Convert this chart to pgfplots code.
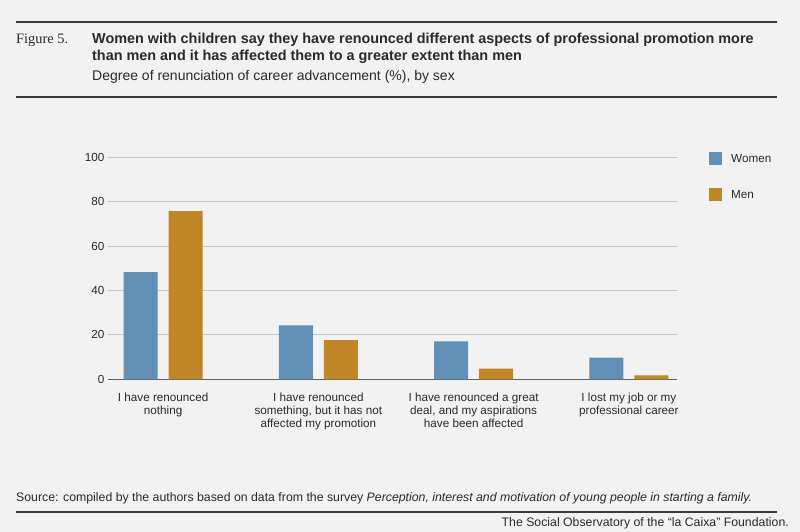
\documentclass[border=0pt]{standalone}
\usepackage{pgfplots}
\pgfplotsset{compat=1.18}
\usepackage{fontspec}
\setmainfont{Liberation Sans}
\newfontfamily\figfont{Liberation Serif}
\definecolor{bg}{HTML}{F2F2F2}
\definecolor{women}{HTML}{628FB6}
\definecolor{men}{HTML}{C08628}
\definecolor{gridc}{HTML}{C6C6C6}
\definecolor{rulec}{HTML}{3A3A3A}
\definecolor{txt}{HTML}{2A2A2A}
\begin{document}
\begin{tikzpicture}
\fill[bg] (0pt,0pt) rectangle (800pt,532pt);
\useasboundingbox (0pt,0pt) rectangle (800pt,532pt);
\draw[rulec, line width=2.4pt] (16pt,510pt) -- (777pt,510pt);
\draw[rulec, line width=2.4pt] (16pt,435pt) -- (777pt,435pt);
\draw[rulec, line width=2.4pt] (16pt,20pt) -- (777pt,20pt);
\node[anchor=base west, inner sep=0pt, txt] at (16pt,488.3pt) {\figfont\fontsize{14.4}{16}\selectfont Figure 5.};
\node[anchor=base west, inner sep=0pt, txt] at (92pt,488.3pt) {\bfseries\fontsize{14.4}{16}\selectfont Women with children say they have renounced different aspects of professional promotion more};
\node[anchor=base west, inner sep=0pt, txt] at (92pt,471.7pt) {\bfseries\fontsize{14.4}{16}\selectfont than men and it has affected them to a greater extent than men};
\node[anchor=base west, inner sep=0pt, txt] at (92pt,451pt) {\fontsize{14}{16}\selectfont Degree of renunciation of career advancement (\%), by sex};
\node[anchor=base west, inner sep=0pt, txt] at (16pt,30pt) {\fontsize{12.3}{14}\selectfont Source: compiled by the authors based on data from the survey \textit{Perception, interest and motivation of young people in starting a family.}};
\node[anchor=base east, inner sep=0pt, txt] at (789pt,5pt) {\fontsize{12.3}{14}\selectfont The Social Observatory of the “la Caixa” Foundation.};
\begin{axis}[
  at={(108pt,152.7pt)}, anchor=south west,
  scale only axis, width=569pt, height=222pt,
  xmin=-0.355, xmax=3.31, ymin=0, ymax=100,
  ybar=11pt, bar width=34pt,
  ytick={0,20,40,60,80,100},
  xtick={0,1,2,3},
  xticklabels={{I have renounced\\nothing},{I have renounced\\something, but it has not\\affected my promotion},{I have renounced a great\\deal, and my aspirations\\have been affected},{I lost my job or my\\professional career}},
  xticklabel style={align=center, font=\fontsize{11.7}{13.3}\selectfont, text=txt, yshift=-10pt},
  yticklabel style={font=\fontsize{11.7}{13}\selectfont, text=txt, xshift=0pt},
  /pgf/number format/assume math mode=true,
  major tick length=0pt,
  ymajorgrids, grid style={gridc, line width=1pt},
  axis x line*=bottom, axis y line*=left,
  x axis line style={rulec!80, line width=1.5pt, -},
  y axis line style={draw=none},
  legend style={at={(1.051,1.032)}, anchor=north west, draw=none, fill=none,
    font=\fontsize{11.7}{13}\selectfont, text=txt, row sep=23pt,
    nodes={inner sep=0pt, anchor=west}},
  legend cell align=left,
  legend image code/.code={\fill[#1] (0pt,-6.5pt) rectangle (13pt,6.5pt); \path (22pt,0pt);},
]
\addplot[fill=women, draw=none] coordinates {(0,48.3) (1,24.3) (2,17.1) (3,9.8)};
\addplot[fill=men, draw=none] coordinates {(0,75.7) (1,17.6) (2,4.8) (3,1.8)};
\legend{Women, Men}
\end{axis}
\end{tikzpicture}
\end{document}
